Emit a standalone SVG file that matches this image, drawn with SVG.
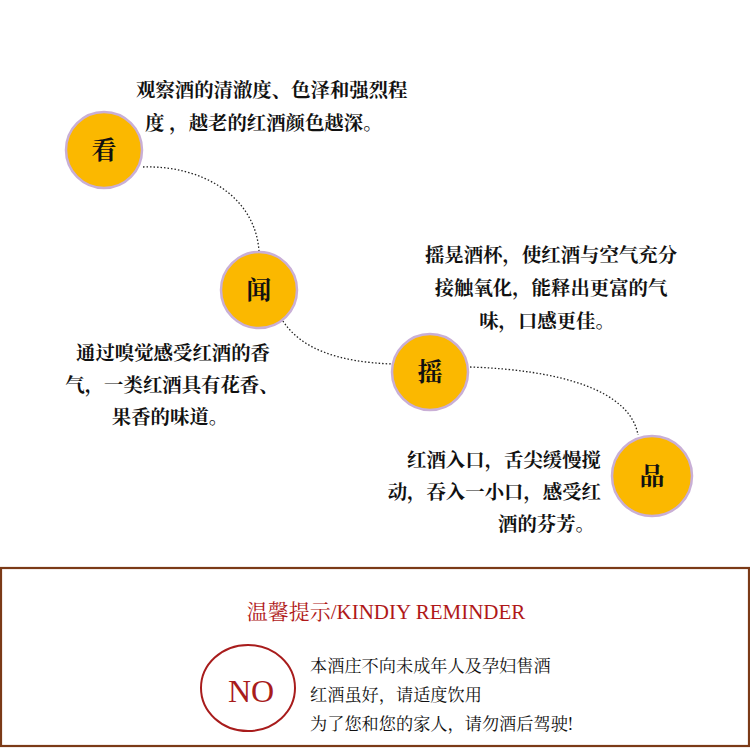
<svg xmlns="http://www.w3.org/2000/svg" width="750" height="750" viewBox="0 0 750 750">
<style>
.node circle{fill:#fbb800;stroke:#c9afd6;stroke-width:2.5}
.lbl{font-family:"Noto Serif CJK SC","Noto Sans CJK SC",serif;font-size:25px;fill:#111;text-anchor:middle;font-weight:bold}
.desc{font-family:"Noto Serif CJK SC","Noto Sans CJK SC",serif;font-size:19.4px;fill:#111;font-weight:bold}
.conn path{fill:none;stroke:#222;stroke-width:1.3;stroke-dasharray:1.5 2}
.note{font-family:"Noto Serif CJK SC","Noto Sans CJK SC",serif;font-size:17.2px;fill:#111}
</style>
<rect width="750" height="750" fill="#fff"/>
<g class="conn">
<path d="M143,167 C200,165 255,195 259,251"/>
<path d="M281,318 C300,350 340,362 392,364"/>
<path d="M470,367 C560,370 630,390 638,435"/>
</g>
<g id="kan" class="node">
<circle cx="104" cy="150" r="38"/>
<text class="lbl" x="104" y="159">看</text>
<text class="desc" x="136" y="97">观察酒的清澈度、色泽和强烈程</text>
<text class="desc" x="145" y="130">度 ，越老的红酒颜色越深。</text>
</g>
<g id="wen" class="node">
<circle cx="259" cy="290" r="38"/>
<text class="lbl" x="259" y="299">闻</text>
<text class="desc" x="173" y="360" text-anchor="middle">通过嗅觉感受红酒的香</text>
<text class="desc" x="172" y="392" text-anchor="middle">气，一类红酒具有花香、</text>
<text class="desc" x="170" y="424" text-anchor="middle">果香的味道。</text>
</g>
<g id="yao" class="node">
<circle cx="430" cy="372" r="38"/>
<text class="lbl" x="430" y="381">摇</text>
<text class="desc" x="551" y="262" text-anchor="middle">摇晃酒杯，使红酒与空气充分</text>
<text class="desc" x="551" y="295" text-anchor="middle">接触氧化，能释出更富的气</text>
<text class="desc" x="547" y="328" text-anchor="middle">味，口感更佳。</text>
</g>
<g id="pin" class="node">
<circle cx="652" cy="476" r="40"/>
<text class="lbl" x="652" y="485">品</text>
<text class="desc" x="601" y="467" text-anchor="end">红酒入口，舌尖缓慢搅</text>
<text class="desc" x="601" y="499" text-anchor="end">动，吞入一小口，感受红</text>
<text class="desc" x="595" y="531" text-anchor="end">酒的芬芳。</text>
</g>
<g id="reminder">
<rect x="1" y="568" width="748" height="178" fill="#fff" stroke="#7b3a17" stroke-width="2.2"/>
<text x="386" y="619" text-anchor="middle" font-family="'Liberation Serif','Noto Serif CJK SC',serif" font-size="21" fill="#b01818">温馨提示/KINDIY REMINDER</text>
<ellipse cx="248" cy="688" rx="47" ry="43" fill="none" stroke="#a81c1c" stroke-width="2"/>
<text x="251" y="702" text-anchor="middle" font-family="'Liberation Serif',serif" font-size="32" fill="#a81c1c">NO</text>
<text class="note" x="310" y="672">本酒庄不向未成年人及孕妇售酒</text>
<text class="note" x="310" y="701">红酒虽好，请适度饮用</text>
<text class="note" x="310" y="730">为了您和您的家人，请勿酒后驾驶!</text>
</g>
</svg>
